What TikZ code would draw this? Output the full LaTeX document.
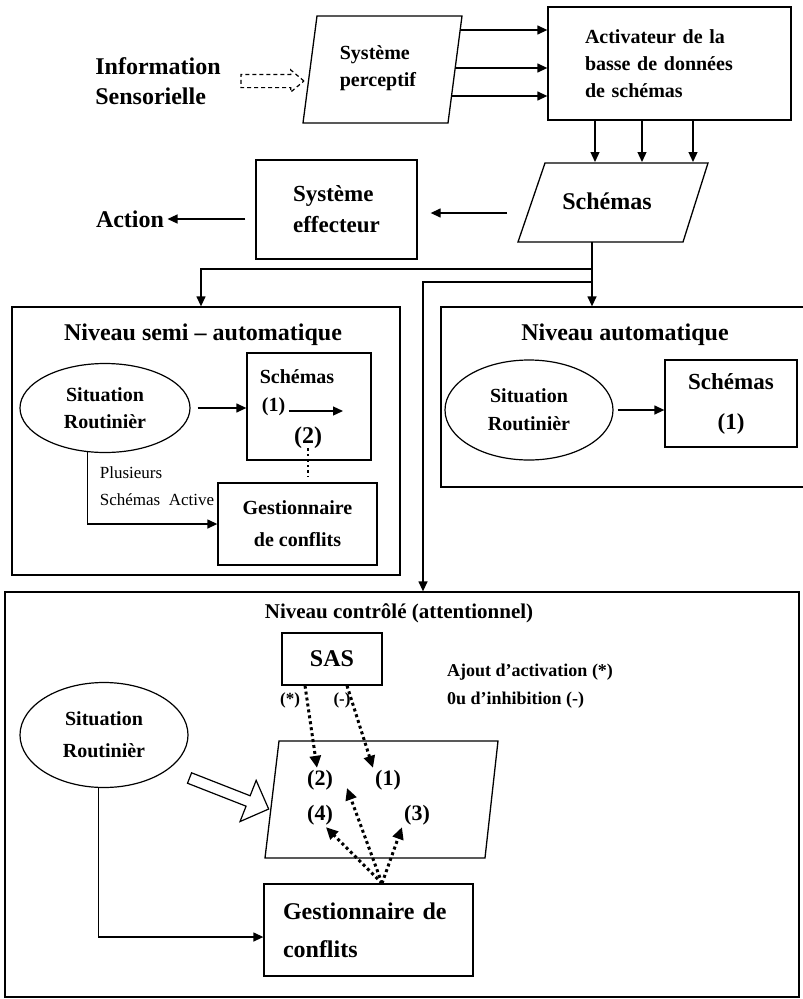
\documentclass[tikz,border=0pt]{standalone}
\usepackage{fontspec}
\setmainfont{Liberation Serif}
\usetikzlibrary{shapes.geometric, shapes.arrows, arrows.meta, positioning, calc}

\tikzset{
  box/.style={draw, rectangle, line width=1.3pt, inner sep=0pt},
  oval/.style={draw, ellipse, line width=1.2pt, inner sep=0pt},
  plain/.style={line width=1.3pt},
  arr/.style={plain, -{Triangle[length=10pt,width=9pt]}},
  dotarr/.style={-{Triangle[length=12pt,width=11pt]}, line width=3pt, dash pattern=on 3pt off 3pt},
  hollow/.style={draw, single arrow, line width=1.2pt, inner sep=0pt},
  txtxl/.style={font=\bfseries\fontsize{24}{30}\selectfont},
  txtl/.style={font=\bfseries\fontsize{20}{27}\selectfont},
  txtm/.style={font=\bfseries\fontsize{18}{28}\selectfont},
  txts/.style={font=\fontsize{17}{27}\selectfont},
  label/.style={font=\bfseries\fontsize{22}{26}\selectfont, inner sep=2pt},
}

\begin{document}
\begin{tikzpicture}[x=1pt, y=-1pt]
            \clip (0,0) rectangle (803,999);

            % Input and perception
            \node[txtxl, align=left] (info) at (158,81) {Information\\Sensorielle};
            \node[hollow, dashed, dash pattern=on 4pt off 3pt, minimum height=63pt, inner sep=6pt, single arrow head extend=4.5pt, single arrow tip angle=80] (sensarrow) at (268.5,81) {};
            \draw[plain] (317,16) -- (462,16) -- (448,123) -- (303,123) -- cycle;
            \node[txtl, align=left] (percept) at (378,68) {Système\\perceptif};
            \coordinate (pr1) at (460,30);
            \coordinate (pr2) at (455,68);
            \coordinate (pr3) at (451,96);

            % Schema activator
            \node[box, minimum width=243pt, minimum height=113pt, txtl, text width=169pt, align=left] (activ) at (669.5,63.5) {Activateur de la\\basse de données\\de schémas};

            % Schemas
            \draw[plain] (545,163) -- (708,163) -- (683,242) -- (518,242) -- cycle;
            \node[txtxl] (schemas) at (607,201) {Schémas};
            \coordinate (schtop) at (607,162);
            \coordinate (schw) at (507,213);
            \coordinate (schbot) at (592,242);
            \coordinate (br1) at (592,269);
            \coordinate (br2) at (592,282);

            % Effector
            \node[txtxl] (action) at (130,219) {Action};
            \node[box, minimum width=161pt, minimum height=99pt, font=\bfseries\fontsize{23}{31}\selectfont, align=left] (effect) at (336.5,209.5) {Système\\effecteur};

            % Levels
            \node[box, minimum width=388pt, minimum height=268pt] (semilevel) at (206,441) {};
            \node[box, minimum width=369pt, minimum height=180pt] (autolevel) at (625.5,397) {};
            \node[box, minimum width=794pt, minimum height=405pt] (ctrllevel) at (402,794.5) {};
            \node[txtxl] (semititle) at (203,335) {Niveau semi – automatique};
            \node[txtxl] (autotitle) at (625,335) {Niveau automatique};
            \node[font=\bfseries\fontsize{21}{26}\selectfont] (ctrltitle) at (399,613) {Niveau contrôlé (attentionnel)};

            % Semi-automatic level
            \node[oval, minimum width=170pt, minimum height=89pt, txtl, align=center] (semiroutine) at (105,408) {Situation\\Routinièr};
            \node[box, minimum width=124pt, minimum height=107pt] (semischema) at (309,406.5) {};
            \node[txtl] (semischtxt) at (297,377) {Schémas};
            \node[txtl] (semione) at (273.5,407) {(1)};
            \coordinate (semioneend) at (343,411);
            \node[txtxl] (semitwo) at (308,438) {(2)};
            \node[box, minimum width=159pt, minimum height=82pt, font=\bfseries\fontsize{20}{32}\selectfont, align=center] (semigest) at (297.5,524) {Gestionnaire\\de conflits};
            \node[txts, align=left] (plusieurs) at (157,486) {Plusieurs\\Schémas\ \ Active};

            % Automatic level
            \node[oval, minimum width=168pt, minimum height=100pt, font=\bfseries\fontsize{20}{28}\selectfont, align=center] (autoroutine) at (529,410) {Situation\\Routinièr};
            \node[box, minimum width=132pt, minimum height=87pt, font=\bfseries\fontsize{23}{40}\selectfont, align=center] (autoschema) at (731,403.5) {Schémas\\(1)};

            % Controlled level
            \node[box, minimum width=100pt, minimum height=52pt, font=\bfseries\fontsize{24}{28}\selectfont] (sas) at (332,659) {SAS};
            \node[txtm, align=left] (ajout) at (530,686) {Ajout d’activation (*)\\0u d’inhibition (-)};
            \node[font=\bfseries\fontsize{17}{20}\selectfont] (star) at (290,700) {(*)};
            \node[font=\bfseries\fontsize{17}{20}\selectfont] (minus) at (342,700) {(-)};
            \draw[plain] (279,741) -- (498,741) -- (485,858) -- (265,858) -- cycle;
            \node[label] (p2) at (320,780) {(2)};
            \node[label] (p1) at (388,780) {(1)};
            \node[label] (p4) at (320,815) {(4)};
            \node[label] (p3) at (417,815) {(3)};
            \coordinate (p2mid) at (347,788);
            \node[oval, minimum width=168pt, minimum height=105pt, font=\bfseries\fontsize{20}{32}\selectfont, align=center] (ctrlroutine) at (104,735) {Situation\\Routinièr};
            \node[hollow, minimum height=85pt, inner sep=5pt, single arrow head extend=16.5pt, rotate=-21.4] (bigarrow) at (226.5,792.5) {};
            \node[box, minimum width=209pt, minimum height=92pt, font=\bfseries\fontsize{24}{38}\selectfont, text width=171pt, align=left] (ctrlgest) at (368.5,930) {Gestionnaire de\\conflits};
            \coordinate (gtop) at ([xshift=13.5pt]ctrlgest.north);

            % Arrows
            \draw[arr] (pr1) -- (pr1 -| activ.west);
            \draw[arr] (pr2) -- (pr2 -| activ.west);
            \draw[arr] (pr3) -- (pr3 -| activ.west);
            \draw[arr] ([xshift=-74.5pt]activ.south) -- ([xshift=-74.5pt]activ.south |- schtop);
            \draw[arr] ([xshift=-27.5pt]activ.south) -- ([xshift=-27.5pt]activ.south |- schtop);
            \draw[arr] ([xshift=23.5pt]activ.south) -- ([xshift=23.5pt]activ.south |- schtop);
            \draw[arr, shorten >=13pt] (schw) -- (schw -| effect.east);
            \draw[arr, shorten <=10pt] (effect.west |- action) -- (action.east);
            \draw[arr] (schbot) -- (schbot |- autolevel.north);
            \draw[arr] (br1) -| ([xshift=-5pt]semilevel.north);
            \draw[arr] (br2) -| ([xshift=21pt]ctrllevel.north);
            \draw[arr, shorten <=7pt] (semiroutine.east) -- (semiroutine.east -| semischema.west);
            \draw[arr] (semione.east |- semioneend) -- (semioneend);
            \draw[line width=2.5pt, dash pattern=on 2.5pt off 3pt, shorten <=-4pt, shorten >=6pt] (semitwo.south) -- (semitwo.south |- semigest.north);
            \draw[arr] (semiroutine.248) |- (semigest.west);
            \draw[arr, shorten <=4pt] (autoroutine.east) -- (autoroutine.east -| autoschema.west);
            \draw[dotarr] ([xshift=-27pt]sas.south) -- ([xshift=-3pt]p2.north);
            \draw[dotarr] ([xshift=15pt]sas.south) -- (p1.north west);
            \draw[dotarr] (gtop) -- ([xshift=6pt]p4.south);
            \draw[dotarr] (gtop) -- (p2mid);
            \draw[dotarr] (gtop) -- (p3.south west);
            \draw[arr] (ctrlroutine.264) |- ([yshift=-7pt]ctrlgest.west);
        \end{tikzpicture}
\end{document}
